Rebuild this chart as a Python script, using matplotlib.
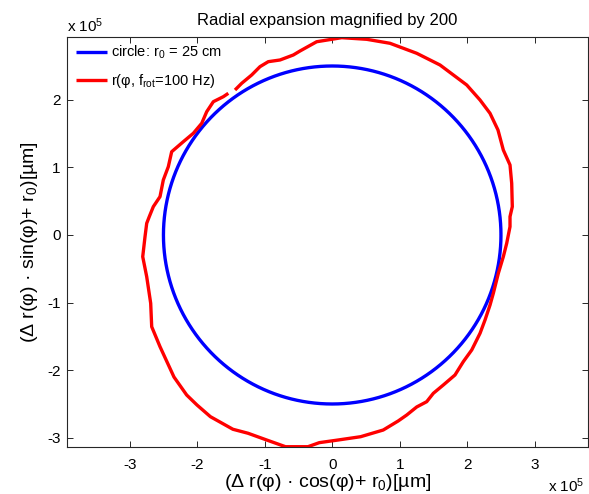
import numpy as np
import matplotlib
matplotlib.use("Agg")
import matplotlib.pyplot as plt

plt.rcParams['font.family'] = ['Liberation Sans', 'DejaVu Sans']
plt.rcParams['mathtext.fontset'] = 'custom'
plt.rcParams['mathtext.rm'] = 'Liberation Sans'
plt.rcParams['mathtext.it'] = 'Liberation Sans'
plt.rcParams['mathtext.default'] = 'regular'
plt.rcParams['axes.unicode_minus'] = False

# ---- data (units of 1e5 micrometres) ----
r0 = 2.5  # circle radius, 25 cm = 2.5e5 um

red_x = [-1.440, -1.341, -1.193, -1.070, -0.947, -0.773, -0.576, -0.477, -0.230, 0.141,
         0.511, 0.856, 1.252, 1.597, 1.993, 2.190, 2.338, 2.456, 2.535, 2.634,
         2.659, 2.668, 2.634, 2.634, 2.585, 2.535, 2.461, 2.387, 2.338, 2.264,
         2.190, 2.067, 1.942, 1.819, 1.646, 1.498, 1.400, 1.252, 1.104, 0.978,
         0.756, 0.421, 0.086, -0.191, -0.359, -0.692, -0.970, -1.247, -1.471, -1.804,
         -2.003, -2.156, -2.344, -2.551, -2.674, -2.689, -2.748, -2.807, -2.773, -2.748,
         -2.710, -2.650, -2.551, -2.502, -2.428, -2.378, -2.206, -2.058, -1.933, -1.859,
         -1.761, -1.613, -1.539]
red_y = [2.145, 2.244, 2.367, 2.490, 2.564, 2.589, 2.663, 2.722, 2.859, 2.919,
         2.895, 2.836, 2.688, 2.515, 2.219, 1.997, 1.800, 1.553, 1.257, 1.036,
         0.765, 0.419, 0.271, 0.123, -0.123, -0.321, -0.567, -0.862, -1.036, -1.257,
         -1.454, -1.701, -1.874, -2.071, -2.219, -2.342, -2.466, -2.544, -2.663, -2.751,
         -2.885, -2.984, -3.033, -3.072, -3.132, -3.132, -3.033, -2.933, -2.874, -2.688,
         -2.515, -2.367, -2.101, -1.652, -1.357, -1.010, -0.617, -0.321, -0.025, 0.173,
         0.271, 0.419, 0.567, 0.814, 1.010, 1.232, 1.380, 1.504, 1.652, 1.824,
         1.972, 2.046, 2.096]

x_ticks = [-3, -2, -1, 0, 1, 2, 3]
y_ticks = [-3, -2, -1, 0, 1, 2]
x_lim = (-3.924, 3.785)
y_lim = (-3.141, 2.929)

title = 'Radial expansion magnified by 200'
label_circle = 'circle: r$_0$ = 25 cm'
label_red = 'r(\u03c6, f$_{rot}$=100 Hz)'
xlabel = '(\u0394 r(\u03c6) \u00b7 cos(\u03c6)+ r$_0$)[\u00b5m]'
ylabel = '(\u0394 r(\u03c6) \u00b7 sin(\u03c6)+ r$_0$)[\u00b5m]'

# ---- figure ----
fig = plt.figure(figsize=(5.89, 4.94), dpi=100)
ax = fig.add_axes([0.1143, 0.0945, 0.8835, 0.8306])

phi = np.linspace(0, 2 * np.pi, 721)
ax.plot(r0 * np.cos(phi), r0 * np.sin(phi), color='#0000ff', lw=2.4,
        label=label_circle, solid_capstyle='butt')
ax.plot(red_x, red_y, color='#ff0000', lw=2.4, label=label_red,
        solid_capstyle='butt', solid_joinstyle='round')

ax.set_xlim(*x_lim)
ax.set_ylim(*y_lim)
ax.set_xticks(x_ticks)
ax.set_yticks(y_ticks)
ax.set_xticklabels([str(t) for t in x_ticks])
ax.set_yticklabels([str(t) for t in y_ticks])
ax.tick_params(direction='in', length=4, width=0.7, color='#262626',
               top=True, right=True, labelsize=11, pad=5)
ax.tick_params(axis='x', pad=8)
for s in ax.spines.values():
    s.set_color('#262626')
    s.set_linewidth(0.8)

ax.set_title(title, fontsize=12, pad=8.5)
ax.set_xlabel(xlabel, fontsize=14, labelpad=0)
ax.set_ylabel(ylabel, fontsize=14, labelpad=5)

leg = ax.legend(loc='upper left', bbox_to_anchor=(0.012, 0.99), frameon=False,
                fontsize=10.5, handlelength=2.1, handletextpad=0.3,
                labelspacing=0.75, borderpad=0.2, borderaxespad=0)

fig.text(67 / 589, 1 - 32 / 494, 'x 10$^5$', fontsize=11, ha='left', va='baseline')
fig.text(548 / 589, 1 - 492 / 494, 'x 10$^5$', fontsize=11, ha='left', va='baseline')

fig.savefig('out.png', dpi=100)
